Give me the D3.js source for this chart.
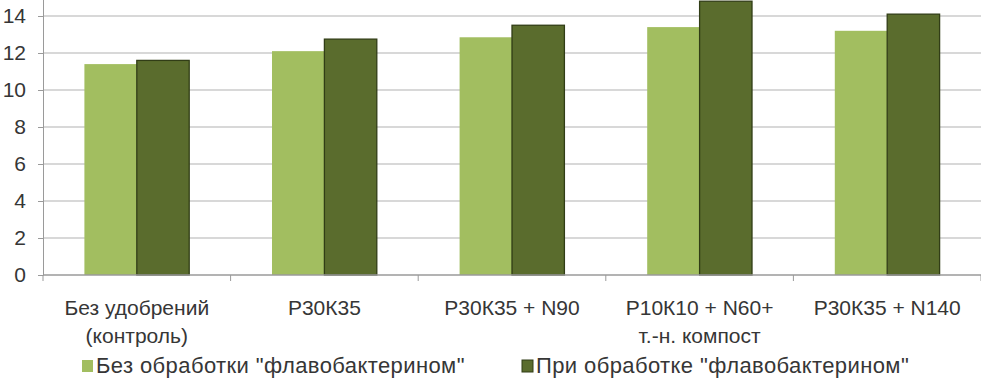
<!DOCTYPE html>
<html lang="ru">
<head>
    <meta charset="UTF-8">
    <title>Флавобактерин</title>
    <script src="https://d3js.org/d3.v7.min.js"></script>
    <style>
        body { margin: 0; background: #fff; }
        svg { display: block; font-family: "Liberation Sans", Arial, sans-serif; }
        .lbl { fill: #363636; font-size: 21px; }
        .leg { fill: #363636; font-size: 22px; letter-spacing: 0.4px; }
    </style>
</head>
<body>
    <svg width="981" height="385"></svg>

    <script>
        // данные
        const categories = [
            ["Без удобрений", "(контроль)"],
            ["Р30К35"],
            ["Р30К35 + N90"],
            ["Р10К10 + N60+", "т.-н. компост"],
            ["Р30К35 + N140"]
        ];
        const series = ['Без обработки "флавобактерином"', 'При обработке "флавобактерином"'];
        const withoutVals = [11.4, 12.1, 12.85, 13.4, 13.2];
        const withVals = [11.6, 12.75, 13.5, 14.8, 14.1];
        const yTicks = [0, 2, 4, 6, 8, 10, 12, 14];
        const colors = ["#a2be60", "#5a6c2d"];

        const svg = d3.select("svg");
        const catKeys = categories.map(c => c.join(" "));

        const x = d3.scaleBand().domain(catKeys).range([43, 981]);
        const xs = d3.scaleBand().domain(series).range([0, x.bandwidth()]).paddingOuter(0.79);
        const y = d3.scaleLinear().domain([0, 16]).range([275, -21]);

        // сетка
        svg.append("g").selectAll("line")
            .data(yTicks.slice(1))
            .enter().append("line")
            .attr("x1", 43).attr("x2", 981)
            .attr("y1", d => y(d)).attr("y2", d => y(d))
            .attr("stroke", "#cbcbcb").attr("stroke-width", 1.5);

        // ось Y
        const yAxis = svg.append("g")
            .attr("transform", "translate(43,0)")
            .call(d3.axisLeft(y).tickValues(yTicks).tickSize(5).tickPadding(12));
        yAxis.select(".domain").attr("stroke", "#9a9a9a");
        yAxis.selectAll(".tick line").attr("stroke", "#9a9a9a");
        yAxis.selectAll("text").attr("class", "lbl").attr("font-family", null).attr("font-size", null);

        // столбцы
        const data = catKeys.map((k, i) => ({ key: k, vals: [withoutVals[i], withVals[i]] }));
        const groups = svg.append("g").selectAll("g")
            .data(data)
            .enter().append("g")
            .attr("transform", d => `translate(${x(d.key)},0)`);
        groups.selectAll("rect")
            .data(d => d.vals.map((v, j) => ({ s: series[j], v: v, j: j })))
            .enter().append("rect")
            .attr("x", d => xs(d.s))
            .attr("width", xs.bandwidth())
            .attr("y", d => y(d.v))
            .attr("height", d => y(0) - y(d.v))
            .attr("fill", d => colors[d.j])
            .attr("stroke", d => d.j === 1 ? "#313d16" : "none")
            .attr("stroke-width", 1.3);

        // ось X
        const xAxis = svg.append("g").attr("transform", `translate(0,${y(0)})`);
        xAxis.append("line")
            .attr("x1", 43).attr("x2", 981)
            .attr("stroke", "#9a9a9a").attr("stroke-width", 1.5);
        xAxis.selectAll(".tk")
            .data(catKeys.concat([null]))
            .enter().append("line")
            .attr("x1", (d, i) => 43 + i * x.step()).attr("x2", (d, i) => 43 + i * x.step())
            .attr("y1", 0).attr("y2", 6)
            .attr("stroke", "#9a9a9a");

        const labels = svg.append("g").selectAll("text")
            .data(categories)
            .enter().append("text")
            .attr("class", "lbl")
            .attr("text-anchor", "middle")
            .attr("x", (d, i) => x(catKeys[i]) + x.bandwidth() / 2)
            .attr("y", 315);
        labels.selectAll("tspan")
            .data(d => d)
            .enter().append("tspan")
            .attr("x", function() { return d3.select(this.parentNode).attr("x"); })
            .attr("dy", (d, i) => i === 0 ? 0 : 28)
            .text(d => d);

        // легенда
        const legendX = [82, 522];
        const legend = svg.append("g").selectAll("g")
            .data(series)
            .enter().append("g")
            .attr("transform", (d, i) => `translate(${legendX[i]},360)`);
        legend.append("rect")
            .attr("width", 11).attr("height", 12)
            .attr("fill", (d, i) => colors[i])
            .attr("stroke", (d, i) => i === 1 ? "#313d16" : "none");
        legend.append("text")
            .attr("class", "leg")
            .attr("x", 14).attr("y", 13)
            .text(d => d);
    </script>
</body>
</html>
